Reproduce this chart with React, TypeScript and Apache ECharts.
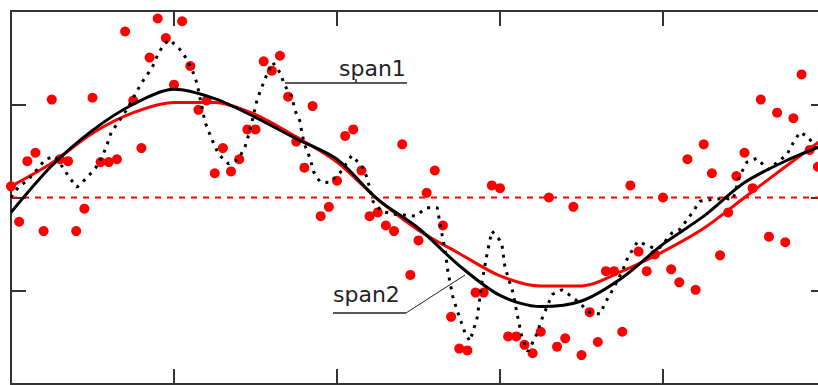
import React, { useEffect, useRef } from "react";
import * as echarts from "echarts";

// Scatter observations (x, y)
const scatterX = [
  0, 0.1, 0.2, 0.3, 0.4, 0.5, 0.6, 0.7, 0.8, 0.9,
  1.0, 1.1, 1.2, 1.3, 1.4, 1.5, 1.6, 1.7, 1.8, 1.9,
  2.0, 2.1, 2.2, 2.3, 2.4, 2.5, 2.6, 2.7, 2.8, 2.9,
  3.0, 3.1, 3.2, 3.3, 3.4, 3.5, 3.6, 3.7, 3.8, 3.9,
  4.0, 4.1, 4.2, 4.3, 4.4, 4.5, 4.6, 4.7, 4.8, 4.9,
  5.0, 5.1, 5.2, 5.3, 5.4, 5.5, 5.6, 5.7, 5.8, 5.9,
  6.0, 6.1, 6.2, 6.3, 6.4, 6.5, 6.6, 6.7, 6.8, 6.9,
  7.0, 7.1, 7.2, 7.3, 7.4, 7.5, 7.6, 7.7, 7.8, 7.9,
  8.0, 8.1, 8.2, 8.3, 8.4, 8.5, 8.6, 8.7, 8.8, 8.9,
  9.0, 9.1, 9.2, 9.3, 9.4, 9.5, 9.6, 9.7, 9.8, 9.9,
];
const scatterY = [
  0.12, -0.26, 0.39, 0.48, -0.36, 1.05, 0.41, 0.39, -0.36, -0.12,
  1.07, 0.38, 0.38, 0.41, 1.78, 1.04, 0.53, 1.5, 1.92, 1.71,
  1.21, 1.89, 1.41, 0.94, 1.04, 0.26, 0.53, 0.28, 0.41, 0.73,
  0.73, 1.46, 1.36, 1.52, 1.08, 0.6, 0.32, 0.98, -0.2, -0.1,
  0.18, 0.66, 0.73, 0.29, -0.2, -0.16, -0.3, -0.36, 0.57, -0.83,
  -0.46, 0.05, 0.29, -0.3, -1.28, -1.62, -1.64, -1.02, -1.02, 0.13,
  0.1, -1.49, -1.49, -1.58, -1.67, -1.44, 0.0, -1.6, -1.51, -0.1,
  -1.69, -1.23, -1.55, -0.79, -0.79, -1.44, 0.13, -0.58, -0.79, -0.61,
  0.0, -0.77, -0.91, 0.41, -0.99, 0.57, 0.26, -0.62, -0.16, 0.23,
  0.48, 0.1, 1.05, -0.42, 0.91, -0.48, 0.85, 1.32, 0.51, 0.33,
];

// Smooth fits sampled every 0.5
const fitX = [0, 0.5, 1, 1.5, 2, 2.5, 3, 3.5, 4, 4.5, 5, 5.5, 6, 6.5, 7, 7.5, 8, 8.5, 9, 9.5, 10];
const redFit = [0.12, 0.37, 0.69, 0.91, 1.02, 1.02, 0.89, 0.65, 0.38, -0.02, -0.35, -0.6, -0.84, -0.95, -0.95, -0.79, -0.58, -0.33, 0.0, 0.33, 0.65];
const span2Fit = [-0.16, 0.34, 0.72, 1.0, 1.16, 1.06, 0.86, 0.63, 0.41, -0.02, -0.33, -0.73, -1.05, -1.17, -1.11, -0.86, -0.5, -0.2, 0.16, 0.39, 0.57];

// Small-span fit (dotted)
const span1X = [
  0, 0.09, 0.21, 0.32, 0.42, 0.54, 0.63, 0.72, 0.81, 0.93,
  1.04, 1.12, 1.18, 1.23, 1.31, 1.42, 1.55, 1.64, 1.73, 1.79,
  1.87, 1.95, 2.07, 2.16, 2.23, 2.28, 2.34, 2.38, 2.43, 2.49,
  2.55, 2.67, 2.79, 2.87, 2.93, 3.02, 3.08, 3.14, 3.21, 3.3,
  3.36, 3.45, 3.48, 3.55, 3.57, 3.61, 3.67, 3.71, 3.79, 3.91,
  4.04, 4.18, 4.31, 4.37, 4.44, 4.55, 4.71, 4.96, 5.1, 5.23,
  5.26, 5.29, 5.33, 5.36, 5.42, 5.47, 5.57, 5.63, 5.72, 5.78,
  5.84, 5.9, 6.02, 6.06, 6.1, 6.16, 6.21, 6.27, 6.34, 6.43,
  6.52, 6.64, 6.76, 6.88, 7.1, 7.23, 7.29, 7.37, 7.5, 7.57,
  7.69, 7.88, 7.96, 8.11, 8.21, 8.37, 8.45, 8.61, 8.76, 8.86,
  8.94, 9.03, 9.15, 9.29, 9.41, 9.52, 9.6, 9.68, 9.78, 9.87,
];
const span1Y = [
  0.0, 0.11, 0.19, 0.3, 0.41, 0.44, 0.33, 0.21, 0.11, 0.21,
  0.32, 0.44, 0.57, 0.7, 0.8, 0.94, 1.15, 1.28, 1.39, 1.51,
  1.64, 1.69, 1.59, 1.48, 1.35, 1.23, 0.98, 0.81, 0.7, 0.57,
  0.46, 0.36, 0.41, 0.54, 0.71, 1.05, 1.19, 1.32, 1.45, 1.34,
  1.2, 1.08, 0.94, 0.81, 0.68, 0.55, 0.42, 0.28, 0.17, 0.16,
  0.27, 0.45, 0.33, 0.21, -0.04, -0.15, -0.18, -0.2, -0.11, -0.11,
  -0.26, -0.4, -0.58, -0.79, -1.06, -1.2, -1.45, -1.54, -1.29, -0.9,
  -0.61, -0.36, -0.48, -0.74, -0.86, -1.02, -1.25, -1.5, -1.65, -1.51,
  -1.29, -1.04, -0.99, -1.06, -1.23, -1.25, -1.13, -1.01, -0.79, -0.64,
  -0.47, -0.54, -0.54, -0.38, -0.34, -0.15, -0.04, -0.02, -0.01, -0.02,
  0.23, 0.38, 0.42, 0.3, 0.38, 0.46, 0.59, 0.7, 0.65, 0.54,
];

const zeroLineX = [0, 10];
const zeroLineY = [0, 0];

const xTickRange = [0, 10, 2];
const yTickRange = [-2, 2, 1];

const frame = "#333333";

function axisCommon() {
  return {
    axisLine: { show: true, onZero: false, lineStyle: { color: frame, width: 2 } },
    axisTick: { show: true, inside: true, length: 15, lineStyle: { color: frame, width: 2 } },
    axisLabel: { show: false },
    splitLine: { show: false },
  };
}

export default function App() {
  const ref = useRef<HTMLDivElement>(null);
  useEffect(() => {
    if (!ref.current) return;
    const chart = echarts.init(ref.current, undefined, { renderer: "svg" });
    const pairs = (xs: number[], ys: number[]) => xs.map((x, i) => [x, ys[i]]);
    const xa = (position: string) => ({
      type: "value",
      min: xTickRange[0],
      max: xTickRange[1],
      interval: xTickRange[2],
      position,
      ...axisCommon(),
    });
    const ya = (position: string) => ({
      type: "value",
      min: yTickRange[0],
      max: yTickRange[1],
      interval: yTickRange[2],
      position,
      ...axisCommon(),
    });
    const font = '22px "DejaVu Sans", sans-serif';
    chart.setOption({
      animation: false,
      backgroundColor: "#ffffff",
      grid: { left: 11, top: 11, width: 815, height: 373 },
      xAxis: [xa("bottom"), xa("top")],
      yAxis: [ya("left"), ya("right")],
      series: [
        {
          type: "line",
          data: pairs(zeroLineX, zeroLineY),
          symbol: "none",
          lineStyle: { color: "#ff0000", width: 2, type: [6, 6] },
          z: 1,
        },
        {
          type: "scatter",
          data: pairs(scatterX, scatterY),
          symbolSize: 10,
          itemStyle: { color: "#ff0000", opacity: 1 },
          z: 2,
        },
        {
          type: "line",
          data: pairs(fitX, redFit),
          smooth: 0.3,
          symbol: "none",
          lineStyle: { color: "#ff0000", width: 3 },
          z: 3,
        },
        {
          type: "line",
          data: pairs(fitX, span2Fit),
          smooth: 0.3,
          symbol: "none",
          lineStyle: { color: "#000000", width: 3 },
          z: 4,
        },
        {
          type: "line",
          data: pairs(span1X, span1Y),
          symbol: "none",
          lineStyle: { color: "#000000", width: 3, type: [3, 6] },
          z: 5,
        },
      ],
      graphic: [
        {
          type: "text",
          z: 10,
          style: { text: "span1", x: 339, y: 68, font, fill: "#222", align: "left", verticalAlign: "middle" },
        },
        {
          type: "line",
          z: 10,
          shape: { x1: 285, y1: 83, x2: 407, y2: 83 },
          style: { stroke: "#222", lineWidth: 1.5 },
        },
        {
          type: "line",
          z: 10,
          shape: { x1: 356, y1: 79, x2: 356, y2: 83 },
          style: { stroke: "#222", lineWidth: 1.5 },
        },
        {
          type: "text",
          z: 10,
          style: { text: "span2", x: 333, y: 294, font, fill: "#222", align: "left", verticalAlign: "middle" },
        },
        {
          type: "line",
          z: 10,
          shape: { x1: 333, y1: 313, x2: 406, y2: 313 },
          style: { stroke: "#222", lineWidth: 1.5 },
        },
        {
          type: "line",
          z: 10,
          shape: { x1: 406, y1: 313, x2: 465, y2: 275 },
          style: { stroke: "#222", lineWidth: 1 },
        },
      ],
    });
    return () => chart.dispose();
  }, []);
  return (
    <div style={{ position: "fixed", left: 0, top: 0, width: 818, height: 385, overflow: "hidden", background: "#fff" }}>
      <div ref={ref} style={{ width: 840, height: 385 }} />
    </div>
  );
}
